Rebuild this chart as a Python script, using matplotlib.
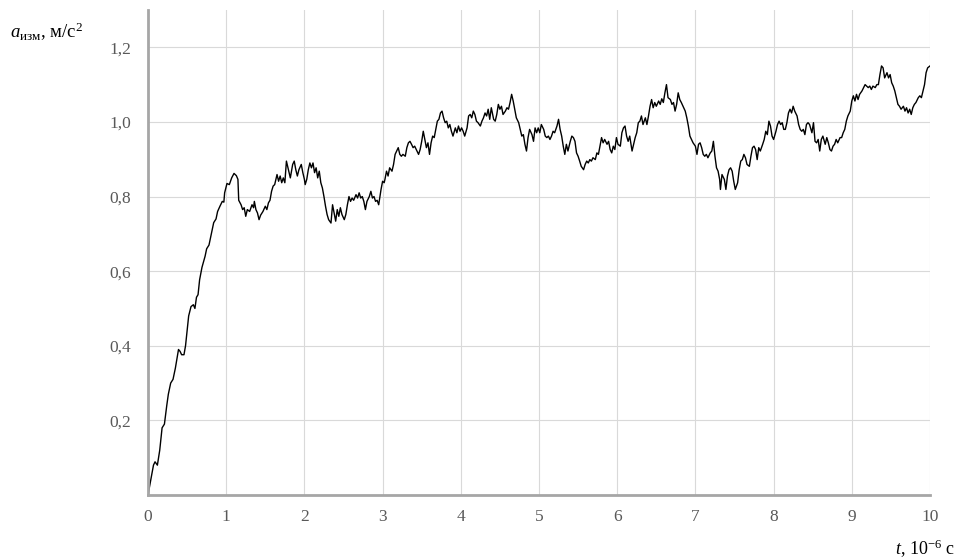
import numpy as np
import matplotlib
matplotlib.use("Agg")
import matplotlib.pyplot as plt

plt.rcParams['font.family'] = ['Liberation Serif', 'DejaVu Serif']
plt.rcParams['mathtext.fontset'] = 'custom'
plt.rcParams['mathtext.rm'] = 'Liberation Serif'
plt.rcParams['mathtext.it'] = 'Liberation Serif:italic'

## DATA
t = [0.00, 0.07, 0.09, 0.12, 0.15, 0.18, 0.21, 0.24, 0.26, 0.29, 0.32, 0.35, 0.39, 0.41, 0.43,
     0.46, 0.48, 0.52, 0.55, 0.58, 0.60, 0.62, 0.64, 0.66, 0.69, 0.73, 0.75, 0.78, 0.81, 0.84,
     0.87, 0.89, 0.92, 0.95, 0.97, 0.98, 1.01, 1.04,
     1.07, 1.10, 1.13, 1.15, 1.16, 1.19, 1.21, 1.23, 1.25, 1.27, 1.30, 1.33, 1.35, 1.36, 1.38,
     1.40, 1.42, 1.44, 1.47, 1.50, 1.52, 1.54, 1.56, 1.58, 1.60, 1.62, 1.65, 1.67, 1.69, 1.71,
     1.73, 1.75, 1.77, 1.79, 1.82, 1.85, 1.87, 1.89, 1.91, 1.93, 1.96, 1.98, 2.00,
     2.01, 2.03, 2.05, 2.07, 2.09, 2.11, 2.13, 2.15, 2.17, 2.19, 2.21, 2.23, 2.25, 2.27, 2.29,
     2.31, 2.34, 2.36, 2.38, 2.40, 2.42, 2.44, 2.46, 2.48, 2.51, 2.53, 2.55, 2.57, 2.59, 2.61,
     2.63, 2.66, 2.68, 2.70, 2.72, 2.74, 2.76, 2.78, 2.80, 2.83, 2.85, 2.87, 2.89, 2.91, 2.93,
     2.95, 2.98, 3.00, 3.02,
     3.03, 3.05, 3.07, 3.09, 3.12, 3.14, 3.16, 3.18, 3.20, 3.22, 3.24, 3.26, 3.29, 3.31, 3.33,
     3.35, 3.37, 3.39, 3.41, 3.44, 3.46, 3.48, 3.50, 3.52, 3.54, 3.56, 3.58, 3.60, 3.62, 3.64,
     3.66, 3.68, 3.70, 3.72, 3.74, 3.76, 3.78, 3.80, 3.82, 3.84, 3.86, 3.88, 3.90, 3.93, 3.95,
     3.97, 3.99, 4.01, 4.03,
     4.05, 4.08, 4.10, 4.12, 4.14, 4.16, 4.18, 4.20, 4.22, 4.25, 4.27, 4.29, 4.31, 4.33, 4.35,
     4.37, 4.39, 4.42, 4.44, 4.46, 4.48, 4.50, 4.52, 4.54, 4.57, 4.59, 4.61, 4.63, 4.65, 4.67,
     4.69, 4.71, 4.74, 4.76, 4.78, 4.80, 4.82, 4.84, 4.86, 4.88, 4.91, 4.93, 4.95, 4.97, 4.99,
     5.01, 5.03, 5.06,
     5.08, 5.10, 5.12, 5.14, 5.16, 5.18, 5.20, 5.23, 5.25, 5.27, 5.29, 5.31, 5.33, 5.35, 5.37,
     5.40, 5.42, 5.44, 5.46, 5.48, 5.50, 5.52, 5.54, 5.57, 5.59, 5.61, 5.63, 5.65, 5.67, 5.69,
     5.72, 5.74, 5.76, 5.78, 5.80, 5.82, 5.84, 5.87, 5.89, 5.91, 5.93, 5.95, 5.97, 5.99, 6.01,
     6.04, 6.06, 6.08,
     6.10, 6.12, 6.14, 6.16, 6.19, 6.21, 6.23, 6.25, 6.27, 6.29, 6.31, 6.33, 6.36, 6.38, 6.40,
     6.42, 6.44, 6.46, 6.48, 6.50, 6.53, 6.55, 6.57, 6.59, 6.61, 6.63, 6.65, 6.68, 6.70, 6.72,
     6.74, 6.76, 6.78, 6.80, 6.82, 6.85, 6.87, 6.89, 6.91, 6.93, 6.95, 6.97, 7.00, 7.02, 7.04,
     7.06, 7.08, 7.10,
     7.12, 7.14, 7.16, 7.19, 7.21, 7.23, 7.25, 7.27, 7.29, 7.31, 7.32, 7.34, 7.37, 7.39, 7.41,
     7.43, 7.45, 7.47, 7.49, 7.51, 7.54, 7.56, 7.58, 7.60, 7.62, 7.64, 7.66, 7.69, 7.71, 7.73,
     7.75, 7.77, 7.79, 7.81, 7.83, 7.86, 7.88, 7.90, 7.92, 7.94, 7.96, 7.98, 8.00, 8.03, 8.05,
     8.07, 8.09, 8.11, 8.13,
     8.15, 8.17, 8.19, 8.21, 8.23, 8.25, 8.27, 8.30, 8.32, 8.34, 8.36, 8.38, 8.40, 8.42, 8.44,
     8.46, 8.49, 8.51, 8.53, 8.55, 8.57, 8.59, 8.61, 8.63, 8.66, 8.68, 8.70, 8.72, 8.74, 8.76,
     8.78, 8.80, 8.82, 8.85, 8.87, 8.89, 8.91, 8.93, 8.95, 8.98, 9.00, 9.02, 9.04, 9.06, 9.08,
     9.10, 9.13,
     9.17, 9.19, 9.21, 9.23, 9.25, 9.27, 9.30, 9.32, 9.34, 9.36, 9.38, 9.40, 9.42, 9.45, 9.47,
     9.49, 9.51, 9.53, 9.55, 9.57, 9.59, 9.61, 9.63, 9.66, 9.68, 9.70, 9.72, 9.74, 9.76, 9.78,
     9.80, 9.82, 9.85, 9.87, 9.89, 9.91, 9.93, 9.95, 9.97, 10.00]

a_izm = [0.000, 0.080, 0.089, 0.080, 0.120, 0.180, 0.190, 0.240, 0.270, 0.300, 0.310, 0.340, 0.390, 0.385, 0.376,
         0.376, 0.400, 0.480, 0.505, 0.510, 0.500, 0.530, 0.537, 0.577, 0.610, 0.640, 0.660, 0.670, 0.700, 0.730,
         0.740, 0.760, 0.774, 0.787, 0.785, 0.810, 0.835, 0.832,
         0.850, 0.862, 0.856, 0.846, 0.790, 0.778, 0.765, 0.770, 0.747, 0.765, 0.760, 0.778, 0.770, 0.787, 0.765,
         0.756, 0.738, 0.750, 0.760, 0.774, 0.765, 0.783, 0.790, 0.814, 0.828, 0.832, 0.859, 0.841, 0.855, 0.837,
         0.850, 0.837, 0.895, 0.877, 0.850, 0.886, 0.895, 0.872, 0.855, 0.872, 0.886, 0.864, 0.846,
         0.832, 0.846, 0.872, 0.890, 0.877, 0.890, 0.864, 0.877, 0.850, 0.868, 0.837, 0.823, 0.800, 0.774, 0.752,
         0.738, 0.729, 0.778, 0.756, 0.734, 0.765, 0.747, 0.770, 0.752, 0.738, 0.752, 0.778, 0.800, 0.787, 0.796,
         0.790, 0.805, 0.796, 0.810, 0.796, 0.800, 0.787, 0.765, 0.787, 0.800, 0.814, 0.796, 0.800, 0.787, 0.790,
         0.778, 0.819, 0.841, 0.837,
         0.846, 0.868, 0.855, 0.877, 0.868, 0.886, 0.913, 0.922, 0.931, 0.913, 0.908, 0.913, 0.908, 0.931, 0.944,
         0.948, 0.940, 0.931, 0.935, 0.922, 0.913, 0.926, 0.948, 0.975, 0.953, 0.931, 0.944, 0.913, 0.944, 0.962,
         0.958, 0.980, 1.002, 1.007, 1.024, 1.029, 1.011, 0.998, 1.002, 0.984, 0.993, 0.975, 0.962, 0.984, 0.971,
         0.989, 0.975, 0.984, 0.975,
         0.962, 0.984, 1.016, 1.020, 1.011, 1.029, 1.020, 1.002, 0.998, 0.989, 1.002, 1.011, 1.024, 1.016, 1.034,
         1.007, 1.038, 1.007, 1.002, 1.020, 1.047, 1.034, 1.042, 1.020, 1.029, 1.038, 1.034, 1.052, 1.074, 1.056,
         1.034, 1.011, 0.998, 0.980, 0.962, 0.966, 0.940, 0.922, 0.958, 0.980, 0.966, 0.948, 0.984, 0.971, 0.984,
         0.971, 0.993, 0.980,
         0.962, 0.958, 0.962, 0.953, 0.962, 0.975, 0.971, 0.989, 1.007, 0.980, 0.962, 0.935, 0.913, 0.940, 0.922,
         0.948, 0.962, 0.958, 0.948, 0.917, 0.908, 0.895, 0.881, 0.872, 0.886, 0.895, 0.890, 0.899, 0.895, 0.904,
         0.899, 0.917, 0.913, 0.935, 0.958, 0.944, 0.953, 0.940, 0.948, 0.926, 0.917, 0.935, 0.926, 0.958, 0.940,
         0.935, 0.971, 0.984,
         0.989, 0.962, 0.948, 0.962, 0.922, 0.940, 0.958, 0.971, 0.998, 1.002, 1.016, 0.993, 1.011, 0.993, 1.016,
         1.042, 1.060, 1.038, 1.052, 1.042, 1.056, 1.047, 1.062, 1.052, 1.078, 1.100, 1.065, 1.060, 1.047, 1.052,
         1.029, 1.047, 1.078, 1.060, 1.052, 1.038, 1.029, 1.011, 0.989, 0.962, 0.953, 0.944, 0.935, 0.913, 0.940,
         0.944, 0.931, 0.913,
         0.908, 0.913, 0.904, 0.917, 0.922, 0.948, 0.908, 0.877, 0.868, 0.846, 0.819, 0.859, 0.846, 0.819, 0.855,
         0.872, 0.877, 0.868, 0.841, 0.819, 0.837, 0.872, 0.895, 0.899, 0.913, 0.904, 0.886, 0.881, 0.908, 0.931,
         0.935, 0.926, 0.899, 0.931, 0.922, 0.940, 0.953, 0.975, 0.966, 1.002, 0.989, 0.962, 0.953, 0.975, 0.993,
         1.002, 0.993, 0.998, 0.980,
         0.980, 0.998, 1.024, 1.034, 1.024, 1.042, 1.029, 1.016, 0.993, 0.980, 0.975, 0.980, 0.966, 0.993, 0.998,
         0.993, 0.971, 0.998, 0.948, 0.944, 0.953, 0.922, 0.953, 0.962, 0.940, 0.958, 0.944, 0.926, 0.922, 0.935,
         0.940, 0.953, 0.944, 0.958, 0.958, 0.971, 0.980, 1.002, 1.016, 1.029, 1.056, 1.070, 1.056, 1.074, 1.060,
         1.074, 1.083,
         1.100, 1.096, 1.092, 1.096, 1.087, 1.096, 1.092, 1.100, 1.100, 1.127, 1.150, 1.145, 1.118, 1.132, 1.118,
         1.127, 1.105, 1.096, 1.083, 1.065, 1.047, 1.042, 1.034, 1.042, 1.029, 1.038, 1.024, 1.034, 1.020, 1.038,
         1.047, 1.052, 1.065, 1.070, 1.065, 1.083, 1.100, 1.132, 1.145, 1.150]

x_ticks = list(range(0, 11))
y_ticks = [0.2, 0.4, 0.6, 0.8, 1.0, 1.2]
y_ticklabels = ['0,2', '0,4', '0,6', '0,8', '1,0', '1,2']

fig = plt.figure(figsize=(9.58, 5.60), dpi=100)
ax = fig.add_axes([148/958, 1 - 495/560, (930 - 148)/958, (495 - 10)/560])

ax.plot(t, a_izm, color='black', linewidth=1.0)

ax.set_xlim(0, 10)
ax.set_ylim(0, 1.3)
ax.set_xticks(x_ticks)
ax.set_xticklabels([str(v) for v in x_ticks])
ax.set_yticks(y_ticks)
ax.set_yticklabels(y_ticklabels)
ax.tick_params(axis='both', length=0, labelsize=12.5, labelcolor='#595959')
ax.tick_params(axis='y', pad=12)
ax.tick_params(axis='x', pad=10)

ax.grid(True, color='#d9d9d9', linewidth=0.8)
ax.set_axisbelow(True)
for side in ['top', 'right']:
    ax.spines[side].set_visible(False)
ax.spines['left'].set_color('#a6a6a6')
ax.spines['left'].set_linewidth(2.0)
ax.spines['bottom'].set_color('#a6a6a6')
ax.spines['bottom'].set_linewidth(2.0)

fig.text(10/958, 1 - 38/560, r'$a_{\mathrm{изм}}$, м/с$^{2}$', fontsize=13.5, color='black',
         ha='left', va='baseline')
fig.text(955/958, 1 - 555/560, r'$t$, 10$^{-6}$ с', fontsize=13, color='black',
         ha='right', va='baseline')

fig.savefig('out.png', dpi=100)
